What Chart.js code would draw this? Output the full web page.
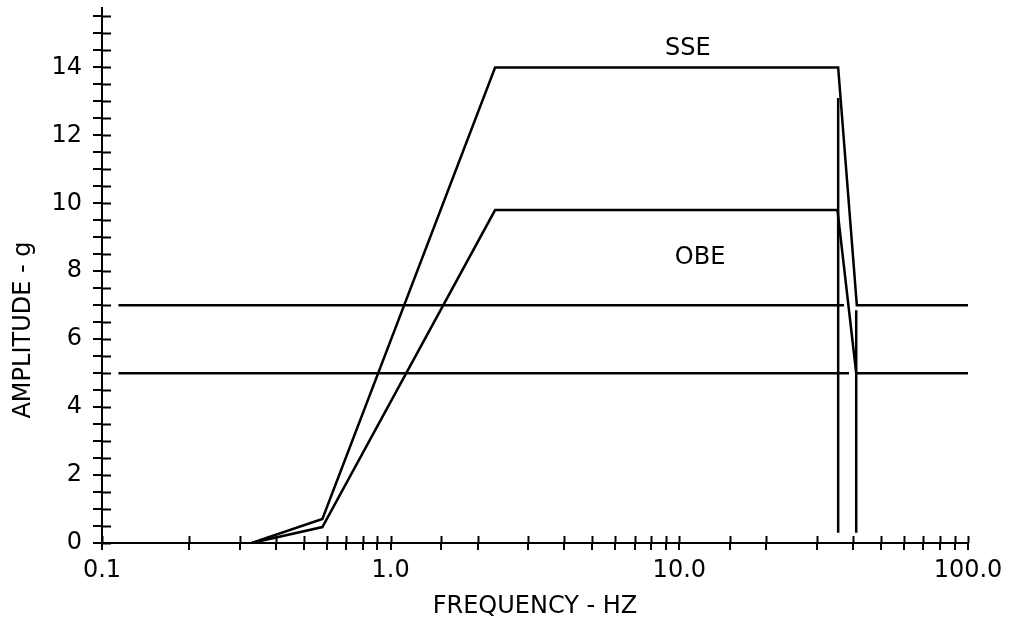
<!DOCTYPE html>
<html>
<head>
<meta charset="utf-8">
<script src="https://cdn.jsdelivr.net/npm/chart.js@4/dist/chart.umd.min.js"></script>
<style>
  html, body { margin: 0; padding: 0; background: #fff; }
  #wrap { width: 1012px; height: 625px; position: relative; }
</style>
</head>
<body>
<div id="wrap"><canvas id="chart"></canvas></div>
<script>
// response spectrum curves (freq in Hz, amplitude in g)
var sseFreq = [0.33, 0.58, 2.3, 35.5, 41.2, 100];
var sseAmp  = [0, 0.71, 14, 14, 7, 7];
var obeFreq = [0.33, 0.58, 2.3, 35.3, 41.0, 100];
var obeAmp  = [0, 0.47, 9.8, 9.8, 5, 5];

// straight reference lines
var line7Freq = [0.114, 37.2];
var line7Amp  = [7, 7];
var line5Freq = [0.114, 38.7];
var line5Amp  = [5, 5];
var vertAFreq = [35.5, 35.5];
var vertAAmp  = [13.1, 0.3];
var vertBFreq = [41.0, 41.0];
var vertBAmp  = [6.85, 0.3];

// curve labels
var curveLabels = ['SSE', 'OBE'];
var labelFreq = [10.7, 11.8];
var labelAmp  = [14.55, 8.4];

var xTickLabels = { 0.1: '0.1', 1: '1.0', 10: '10.0', 100: '100.0' };
var yTitle = 'AMPLITUDE - g';
var yTitleAmp = 6.27;   // the title sits low on the axis

var FONT = "'DejaVu Sans', Verdana, sans-serif";

function pts(xs, ys) {
    return xs.map(function(x, i) { return { x: x, y: ys[i] }; });
}

function lineSet(label, xs, ys) {
    return {
        label: label,
        data: pts(xs, ys),
        showLine: true,
        borderColor: '#000',
        borderWidth: 2.5,
        pointRadius: 0,
        fill: false,
        tension: 0
    };
}

// ticks that cross the axis line (inner half), curve labels, y title
var extras = {
    id: 'extras',
    afterDraw: function(chart) {
        var ctx = chart.ctx;
        var xs = chart.scales.x, ys = chart.scales.y;
        ctx.save();
        ctx.strokeStyle = '#000';
        ctx.lineWidth = 2;
        ctx.beginPath();
        ys.ticks.forEach(function(t) {
            var py = Math.round(ys.getPixelForValue(t.value)) + 0.5;
            ctx.moveTo(xs.left, py);
            ctx.lineTo(xs.left + 9, py);
        });
        xs.ticks.forEach(function(t) {
            var px = Math.round(xs.getPixelForValue(t.value)) + 0.5;
            ctx.moveTo(px, ys.bottom);
            ctx.lineTo(px, ys.bottom - 7);
        });
        ctx.stroke();

        ctx.fillStyle = '#000';
        ctx.font = '24px ' + FONT;
        ctx.textAlign = 'center';
        ctx.textBaseline = 'middle';
        curveLabels.forEach(function(txt, i) {
            ctx.fillText(txt, xs.getPixelForValue(labelFreq[i]), ys.getPixelForValue(labelAmp[i]));
        });

        ctx.translate(24, ys.getPixelForValue(yTitleAmp));
        ctx.rotate(-Math.PI / 2);
        ctx.fillText(yTitle, 0, 0);
        ctx.restore();
    }
};

new Chart(document.getElementById('chart').getContext('2d'), {
    type: 'scatter',
    data: {
        datasets: [
            lineSet('SSE', sseFreq, sseAmp),
            lineSet('OBE', obeFreq, obeAmp),
            lineSet('7g', line7Freq, line7Amp),
            lineSet('5g', line5Freq, line5Amp),
            lineSet('A', vertAFreq, vertAAmp),
            lineSet('B', vertBFreq, vertBAmp)
        ]
    },
    options: {
        responsive: true,
        maintainAspectRatio: false,
        animation: false,
        layout: { padding: { top: 8, right: 44, left: 0, bottom: 0 } },
        plugins: { legend: { display: false }, tooltip: { enabled: false } },
        scales: {
            x: {
                type: 'logarithmic',
                min: 0.1, max: 100,
                border: { display: true, color: '#000', width: 2 },
                grid: { drawOnChartArea: false, color: '#000', lineWidth: 2, tickLength: 7 },
                ticks: {
                    autoSkip: false, maxRotation: 0, color: '#000', padding: 6,
                    font: { family: FONT, size: 24 },
                    callback: function(v) { return xTickLabels[v] || ''; }
                },
                title: {
                    display: true, text: 'FREQUENCY - HZ', color: '#000',
                    font: { family: FONT, size: 24 }, padding: { top: 6 }
                },
                afterFit: function(s) { s.height = 82; }
            },
            y: {
                type: 'linear',
                min: 0, max: 15.75,
                border: { display: true, color: '#000', width: 2 },
                grid: { drawOnChartArea: false, color: '#000', lineWidth: 2, tickLength: 9 },
                afterBuildTicks: function(s) {
                    var t = [];
                    for (var v = 0; v <= 15.5; v += 0.5) t.push({ value: v });
                    s.ticks = t;
                },
                ticks: {
                    color: '#000', padding: 11, autoSkip: false,
                    font: { family: FONT, size: 24 },
                    callback: function(v) { return v % 2 === 0 && v <= 14 ? String(v) : ''; }
                },
                title: { display: false },
                afterFit: function(s) {
                    s.width = 102;
                    s.paddingTop = 0;
                    s.paddingBottom = 0;
                }
            }
        }
    },
    plugins: [extras]
});
</script>
</body>
</html>
